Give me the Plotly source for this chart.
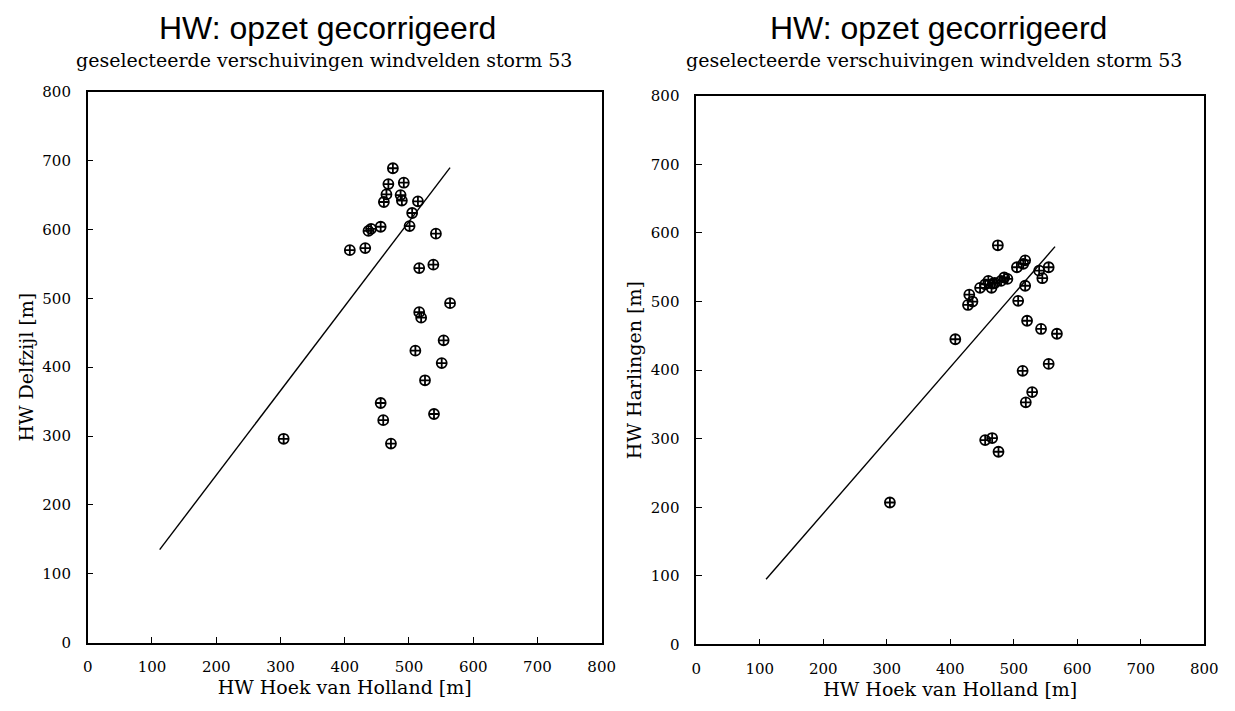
import plotly.graph_objects as go

# HW Hoek van Holland vs HW Delfzijl (left panel)
hvh_delfzijl = [305, 408, 432, 437, 441, 456, 461, 465, 468, 475, 487, 489, 492,
                501, 505, 514, 542, 516, 538, 564, 516, 519, 554, 510, 551, 525,
                456, 539, 460, 472]
delfzijl = [296, 570, 573, 598, 601, 604, 640, 651, 666, 689, 650, 642, 668,
            605, 624, 641, 594, 544, 549, 493, 480, 472, 439, 424, 406, 381,
            348, 332, 323, 289]

# HW Hoek van Holland vs HW Harlingen (right panel)
hvh_harlingen = [305, 408, 428, 430, 435, 447, 455, 460, 465, 467, 470, 475, 480,
                 485, 490, 505, 515, 518, 545, 518, 540, 555, 507, 521, 543, 568,
                 555, 514, 529, 519, 455, 466, 476]
harlingen = [207, 445, 495, 510, 500, 520, 525, 530, 520, 526, 527, 582, 530,
             535, 533, 550, 555, 560, 534, 523, 545, 550, 501, 472, 460, 453,
             409, 399, 368, 353, 298, 301, 281]

# Regression lines (end points)
fit_delfzijl_x = [112, 564]
fit_delfzijl_y = [135, 690]
fit_harlingen_x = [110, 565]
fit_harlingen_y = [95, 580]

tick_vals = [0, 100, 200, 300, 400, 500, 600, 700, 800]

SERIF = "DejaVu Serif"
SANS = "Liberation Sans"
W, H = 1235, 711

fig = go.Figure()

marker = dict(symbol="circle-cross-open", size=10, color="black",
              line=dict(width=1.8, color="black"))

fig.add_trace(go.Scatter(x=hvh_delfzijl, y=delfzijl, mode="markers",
                         marker=marker, xaxis="x", yaxis="y", showlegend=False))
fig.add_trace(go.Scatter(x=fit_delfzijl_x, y=fit_delfzijl_y, mode="lines",
                         line=dict(color="black", width=1.4),
                         xaxis="x", yaxis="y", showlegend=False))
fig.add_trace(go.Scatter(x=hvh_harlingen, y=harlingen, mode="markers",
                         marker=marker, xaxis="x2", yaxis="y2", showlegend=False))
fig.add_trace(go.Scatter(x=fit_harlingen_x, y=fit_harlingen_y, mode="lines",
                         line=dict(color="black", width=1.4),
                         xaxis="x2", yaxis="y2", showlegend=False))

axis_common = dict(range=[0, 800], tickvals=tick_vals, showgrid=False,
                   zeroline=False, showline=True, linecolor="black",
                   linewidth=1.5, mirror=True, ticks="inside", ticklen=6,
                   tickcolor="black", tickwidth=1,
                   tickfont=dict(family=SERIF, size=15, color="black"))
title_font = dict(family=SERIF, size=19, color="black")

fig.update_layout(
    width=W, height=H,
    margin=dict(l=0, r=0, t=0, b=0),
    paper_bgcolor="white", plot_bgcolor="white",
    xaxis=dict(domain=[84 / W, 606 / W], anchor="y", ticklabelstandoff=10,
               title=dict(text="HW Hoek van Holland [m]", standoff=2,
                          font=title_font),
               **axis_common),
    yaxis=dict(domain=[(H - 650) / H, (H - 85) / H], anchor="x",
               ticklabelstandoff=12,
               title=dict(text="HW Delfzijl [m]", standoff=4, font=title_font),
               **axis_common),
    xaxis2=dict(domain=[702 / W, 1218 / W], anchor="y2", ticklabelstandoff=10,
                title=dict(text="HW Hoek van Holland [m]", standoff=2,
                           font=title_font),
                **axis_common),
    yaxis2=dict(domain=[(H - 652) / H, (H - 89) / H], anchor="x2",
                ticklabelstandoff=12,
                title=dict(text="HW Harlingen [m]", standoff=4, font=title_font),
                **axis_common),
)

# Panel headings above each plot area
for cx in (328, 948):
    fig.add_annotation(x=cx / W, y=1 - 19 / H, xref="paper", yref="paper",
                       xanchor="center", yanchor="middle",
                       text="HW: opzet gecorrigeerd", showarrow=False,
                       font=dict(family=SANS, size=32, color="black"))
    fig.add_annotation(x=(cx - 4) / W, y=1 - 52 / H, xref="paper", yref="paper",
                       xanchor="center", yanchor="middle",
                       text="geselecteerde verschuivingen windvelden storm 53",
                       showarrow=False,
                       font=dict(family=SERIF, size=19, color="black"))

fig.write_html("out.html")
